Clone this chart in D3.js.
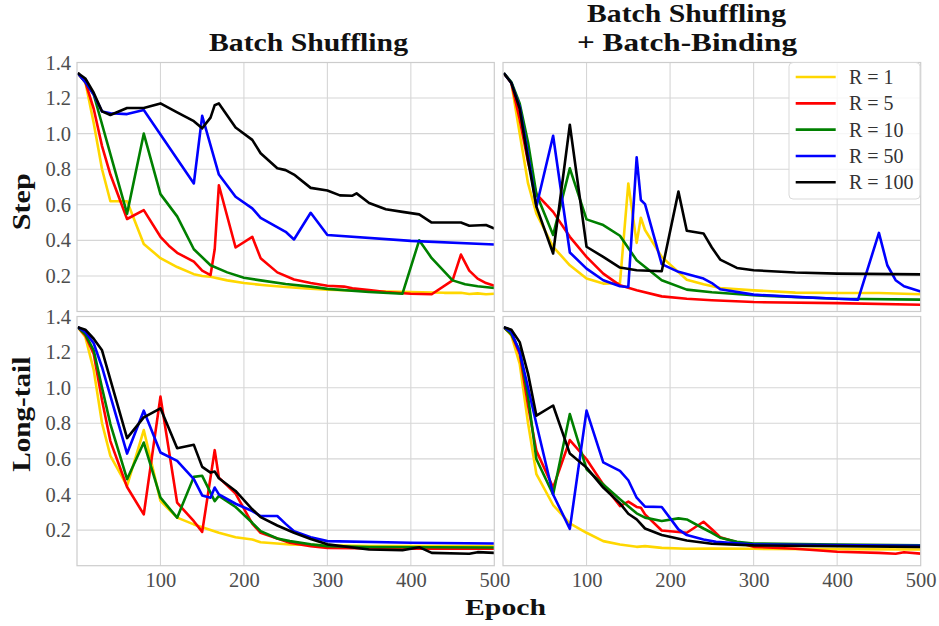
<!DOCTYPE html>
<html>
<head>
<meta charset="utf-8">
<script src="https://cdn.jsdelivr.net/npm/d3@7"></script>
<style>
  html, body { margin: 0; padding: 0; background: #ffffff; }
  svg { display: block; }
</style>
</head>
<body>
<script>
// ---------------- DATA ----------------
const seriesNames = ["R = 1", "R = 5", "R = 10", "R = 50", "R = 100"];
const seriesColors = ["#ffd700", "#ff0000", "#008000", "#0000ff", "#000000"];
const xTicks = [100, 200, 300, 400, 500];
const yTicks = [0.2, 0.4, 0.6, 0.8, 1.0, 1.2, 1.4];
const colTitles = [["Batch Shuffling"], ["Batch Shuffling", "+ Batch-Binding"]];
const rowLabels = ["Step", "Long-tail"];
const xLabel = "Epoch";

// Step / Batch Shuffling
const stepShufR1 = [[1,1.34],[10,1.29],[20,1.06],[30,0.80],[40,0.62],[60,0.62],[80,0.38],[100,0.30],[120,0.25],[140,0.21],[150,0.20],[160,0.195],[180,0.175],[200,0.16],[225,0.148],[250,0.138],[275,0.13],[300,0.123],[350,0.115],[400,0.11],[440,0.105],[460,0.105],[470,0.098],[480,0.102],[490,0.097],[500,0.10]];
const stepShufR5 = [[1,1.34],[10,1.29],[20,1.14],[30,0.93],[40,0.77],[60,0.52],[80,0.57],[100,0.42],[110,0.37],[120,0.33],[140,0.28],[150,0.23],[160,0.205],[165,0.35],[170,0.71],[190,0.36],[210,0.42],[220,0.30],[240,0.22],[260,0.18],[280,0.16],[300,0.145],[320,0.14],[330,0.13],[350,0.12],[370,0.11],[400,0.10],[425,0.097],[450,0.175],[460,0.32],[470,0.23],[480,0.185],[490,0.16],[500,0.145]];
const stepShufR10 = [[1,1.34],[10,1.29],[20,1.22],[60,0.55],[80,1.0],[100,0.66],[120,0.535],[140,0.35],[160,0.26],[180,0.22],[200,0.19],[220,0.175],[250,0.155],[280,0.14],[300,0.127],[350,0.11],[390,0.10],[410,0.40],[425,0.30],[450,0.175],[465,0.153],[480,0.142],[500,0.132]];
const stepShufR50 = [[1,1.34],[10,1.29],[20,1.22],[30,1.125],[40,1.115],[60,1.11],[80,1.133],[140,0.72],[150,1.10],[170,0.77],[190,0.645],[210,0.58],[220,0.527],[250,0.448],[260,0.405],[280,0.555],[300,0.43],[400,0.397],[500,0.377]];
const stepShufR100 = [[1,1.34],[10,1.31],[20,1.23],[30,1.125],[40,1.105],[60,1.144],[80,1.144],[100,1.17],[120,1.12],[140,1.07],[150,1.03],[160,1.09],[165,1.16],[170,1.17],[190,1.035],[210,0.965],[220,0.89],[240,0.805],[250,0.795],[260,0.77],[280,0.695],[300,0.68],[315,0.653],[330,0.651],[335,0.664],[350,0.61],[370,0.575],[390,0.56],[410,0.546],[425,0.50],[460,0.50],[470,0.482],[490,0.486],[500,0.467]];

// Step / Batch Shuffling + Batch-Binding
const stepBindR1 = [[1,1.34],[10,1.285],[20,1.0],[30,0.72],[40,0.55],[60,0.364],[80,0.26],[100,0.185],[120,0.157],[140,0.16],[150,0.72],[160,0.386],[165,0.527],[170,0.458],[190,0.307],[220,0.179],[240,0.153],[260,0.132],[300,0.119],[350,0.106],[400,0.104],[450,0.104],[500,0.097]];
const stepBindR5 = [[1,1.34],[10,1.285],[20,1.08],[30,0.84],[40,0.66],[60,0.56],[80,0.42],[100,0.307],[120,0.213],[140,0.147],[160,0.119],[190,0.085],[220,0.072],[250,0.063],[300,0.053],[400,0.047],[500,0.038]];
const stepBindR10 = [[1,1.34],[10,1.29],[20,1.17],[30,0.95],[40,0.66],[60,0.43],[80,0.805],[100,0.518],[120,0.486],[140,0.426],[160,0.288],[190,0.176],[220,0.123],[250,0.108],[300,0.091],[400,0.072],[500,0.067]];
const stepBindR50 = [[1,1.34],[10,1.285],[20,1.15],[30,0.88],[40,0.59],[60,0.988],[80,0.332],[100,0.241],[120,0.176],[140,0.142],[150,0.138],[160,0.867],[165,0.627],[170,0.604],[190,0.266],[210,0.223],[240,0.185],[250,0.16],[260,0.125],[300,0.095],[350,0.082],[400,0.072],[425,0.067],[450,0.442],[460,0.26],[470,0.176],[480,0.142],[500,0.112]];
const stepBindR100 = [[1,1.34],[10,1.285],[20,1.14],[30,0.85],[40,0.59],[60,0.326],[80,1.05],[100,0.364],[120,0.307],[140,0.247],[160,0.232],[190,0.226],[210,0.674],[220,0.454],[240,0.439],[250,0.36],[260,0.292],[280,0.245],[300,0.232],[350,0.219],[400,0.213],[500,0.209]];

// Long-tail / Batch Shuffling
const longShufR1 = [[1,1.34],[10,1.285],[20,1.1],[30,0.8],[40,0.617],[60,0.448],[80,0.762],[100,0.364],[120,0.27],[140,0.232],[170,0.185],[190,0.16],[210,0.147],[220,0.132],[255,0.119],[300,0.114],[350,0.11],[500,0.11]];
const longShufR5 = [[1,1.34],[10,1.294],[20,1.19],[30,0.93],[40,0.70],[60,0.442],[80,0.288],[100,0.95],[120,0.354],[140,0.25],[150,0.19],[165,0.649],[170,0.495],[190,0.405],[210,0.236],[220,0.185],[240,0.153],[255,0.129],[280,0.11],[300,0.1],[400,0.096],[500,0.095]];
const longShufR10 = [[1,1.34],[10,1.3],[20,1.21],[30,1.0],[40,0.796],[60,0.486],[80,0.692],[100,0.382],[120,0.27],[140,0.499],[150,0.505],[165,0.363],[170,0.392],[190,0.33],[210,0.241],[220,0.194],[240,0.153],[255,0.138],[280,0.12],[300,0.11],[350,0.105],[500,0.102]];
const longShufR50 = [[1,1.34],[10,1.313],[20,1.25],[30,1.115],[60,0.63],[80,0.871],[100,0.636],[120,0.589],[140,0.486],[150,0.395],[160,0.382],[165,0.439],[170,0.401],[190,0.348],[210,0.307],[220,0.279],[240,0.279],[250,0.235],[260,0.194],[280,0.16],[300,0.138],[400,0.129],[500,0.125]];
const longShufR100 = [[1,1.34],[10,1.326],[20,1.275],[30,1.21],[60,0.717],[80,0.833],[100,0.884],[120,0.66],[140,0.679],[150,0.555],[160,0.523],[165,0.529],[170,0.491],[190,0.42],[210,0.317],[220,0.273],[240,0.226],[260,0.185],[280,0.15],[300,0.12],[350,0.091],[390,0.087],[410,0.104],[425,0.072],[470,0.067],[480,0.076],[500,0.072]];

// Long-tail / Batch Shuffling + Batch-Binding
const longBindR1 = [[1,1.34],[10,1.294],[20,1.134],[30,0.80],[40,0.514],[60,0.341],[80,0.238],[100,0.185],[120,0.138],[140,0.119],[160,0.106],[170,0.11],[190,0.1],[220,0.095],[250,0.097],[300,0.095],[500,0.091]];
const longBindR5 = [[1,1.34],[10,1.3],[20,1.19],[30,0.9],[40,0.645],[60,0.439],[80,0.706],[100,0.598],[120,0.457],[140,0.335],[150,0.36],[160,0.33],[165,0.326],[170,0.288],[190,0.198],[220,0.185],[240,0.247],[250,0.205],[260,0.16],[280,0.132],[300,0.106],[350,0.095],[400,0.078],[450,0.072],[470,0.067],[480,0.076],[500,0.068]];
const longBindR10 = [[1,1.34],[10,1.3],[20,1.21],[30,0.95],[40,0.598],[60,0.4],[80,0.852],[100,0.542],[120,0.457],[140,0.373],[160,0.294],[170,0.27],[190,0.251],[210,0.266],[220,0.26],[240,0.209],[250,0.185],[260,0.157],[280,0.134],[300,0.125],[400,0.119],[500,0.115]];
const longBindR50 = [[1,1.34],[10,1.313],[20,1.2],[30,1.0],[40,0.796],[60,0.4],[80,0.207],[100,0.871],[120,0.58],[140,0.533],[150,0.48],[160,0.382],[170,0.332],[190,0.33],[210,0.204],[220,0.172],[240,0.147],[255,0.134],[300,0.119],[500,0.112]];
const longBindR100 = [[1,1.34],[10,1.326],[20,1.256],[30,1.078],[40,0.843],[60,0.9],[80,0.63],[100,0.551],[120,0.439],[140,0.35],[150,0.292],[160,0.26],[170,0.209],[190,0.172],[220,0.142],[250,0.123],[300,0.114],[400,0.11],[500,0.106]];

// ---------------- LAYOUT ----------------
const W = 939, H = 626;
const colX = [[77, 494.3], [503, 920.7]];
const rowY = [[62.5, 311.5], [316.5, 565.7]];
const serifFont = "'Liberation Serif', 'Times New Roman', serif";

const panels = [
  { row: 0, col: 0, series: [stepShufR1, stepShufR5, stepShufR10, stepShufR50, stepShufR100] },
  { row: 0, col: 1, series: [stepBindR1, stepBindR5, stepBindR10, stepBindR50, stepBindR100] },
  { row: 1, col: 0, series: [longShufR1, longShufR5, longShufR10, longShufR50, longShufR100] },
  { row: 1, col: 1, series: [longBindR1, longBindR5, longBindR10, longBindR50, longBindR100] }
];

const svg = d3.select("body").append("svg").attr("width", W).attr("height", H);
svg.append("rect").attr("width", W).attr("height", H).attr("fill", "#ffffff");
const defs = svg.append("defs");

panels.forEach((p, i) => {
  const x = d3.scaleLinear().domain([0, 500]).range(colX[p.col]);
  const y = d3.scaleLinear().domain([0, 1.4]).range([rowY[p.row][1], rowY[p.row][0]]);
  const [x0, x1] = x.range();
  const [y1, y0] = y.range();
  const g = svg.append("g");

  g.append("rect").attr("x", x0).attr("y", y0).attr("width", x1 - x0).attr("height", y1 - y0)
    .attr("fill", "#ffffff");

  // grid
  g.selectAll("line.vg").data(xTicks.filter(t => t < 500)).enter().append("line")
    .attr("x1", d => x(d)).attr("x2", d => x(d)).attr("y1", y0).attr("y2", y1)
    .attr("stroke", "#d6d6d6").attr("stroke-width", 1.1);
  g.selectAll("line.hg").data(yTicks.filter(t => t < 1.4)).enter().append("line")
    .attr("x1", x0).attr("x2", x1).attr("y1", d => y(d)).attr("y2", d => y(d))
    .attr("stroke", "#d6d6d6").attr("stroke-width", 1.1);

  // lines
  const cid = "clip" + i;
  defs.append("clipPath").attr("id", cid).append("rect")
    .attr("x", x0).attr("y", y0).attr("width", x1 - x0).attr("height", y1 - y0);
  const line = d3.line().x(d => x(d[0])).y(d => y(d[1]));
  const lg = g.append("g").attr("clip-path", `url(#${cid})`);
  p.series.forEach((s, k) => {
    lg.append("path").attr("d", line(s)).attr("fill", "none")
      .attr("stroke", seriesColors[k]).attr("stroke-width", 2.6)
      .attr("stroke-linejoin", "round").attr("stroke-linecap", "butt");
  });

  // frame
  g.append("rect").attr("x", x0).attr("y", y0).attr("width", x1 - x0).attr("height", y1 - y0)
    .attr("fill", "none").attr("stroke", "#cccccc").attr("stroke-width", 1.2);

  // axes
  if (p.col === 0) {
    const ax = g.append("g").attr("transform", `translate(${x0},0)`)
      .call(d3.axisLeft(y).tickValues(yTicks).tickSize(0).tickPadding(6).tickFormat(d3.format(".1f")));
    ax.select(".domain").remove();
    ax.selectAll("text").attr("font-family", serifFont).attr("font-size", "20.5px").attr("fill", "#4d4d4d");
  }
  if (p.row === 1) {
    const ax = g.append("g").attr("transform", `translate(0,${y1})`)
      .call(d3.axisBottom(x).tickValues(xTicks).tickSize(0).tickPadding(7));
    ax.select(".domain").remove();
    ax.selectAll("text").attr("font-family", serifFont).attr("font-size", "20.5px").attr("fill", "#4d4d4d");
  }
});

// titles and axis labels (bold, slightly extended like the reference typeface)
function boldText(txt, cx, cy, len, size, rotate) {
  const t = svg.append("text").text(txt)
    .attr("font-family", serifFont).attr("font-weight", "bold").attr("font-size", size + "px")
    .attr("fill", "#111111").attr("text-anchor", "middle")
    .attr("textLength", len).attr("lengthAdjust", "spacingAndGlyphs");
  if (rotate) t.attr("transform", `translate(${cx},${cy}) rotate(-90)`);
  else t.attr("x", cx).attr("y", cy);
  return t;
}
boldText(colTitles[0][0], 308.5, 50.5, 199, 24.5);
boldText(colTitles[1][0], 686.5, 22, 199, 24.5);
boldText(colTitles[1][1], 687, 50.5, 220, 24.5);
boldText(rowLabels[0], 29.5, 201.7, 57, 24.5, true);
boldText(rowLabels[1], 29.5, 414.2, 115, 24.5, true);
boldText(xLabel, 505.5, 615, 81, 24, false);

// legend
const lx0 = 789, ly0 = 62.5, lw = 131, lh = 136.5;
const leg = svg.append("g");
leg.append("rect").attr("x", lx0).attr("y", ly0).attr("width", lw).attr("height", lh)
  .attr("rx", 4).attr("fill", "#ffffff").attr("fill-opacity", 0.8)
  .attr("stroke", "#d9d9d9").attr("stroke-width", 1);
const legY = d3.scalePoint().domain(seriesNames).range([77, 182.3]);
seriesNames.forEach((n, k) => {
  leg.append("line").attr("x1", 795.7).attr("x2", 835.7).attr("y1", legY(n)).attr("y2", legY(n))
    .attr("stroke", seriesColors[k]).attr("stroke-width", 2.6);
  leg.append("text").attr("x", 849).attr("y", legY(n)).attr("dy", "0.35em").text(n)
    .attr("font-family", serifFont).attr("font-size", "20px").attr("fill", "#333333");
});
</script>
</body>
</html>
